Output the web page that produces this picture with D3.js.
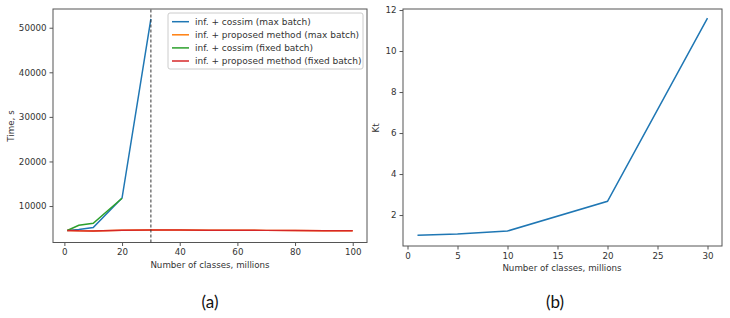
<!DOCTYPE html>
<html>
<head>
<meta charset="utf-8">
<script src="https://d3js.org/d3.v7.min.js"></script>
<style>
  body { margin: 0; background: #fff; }
  svg { display: block; }
  text { font-family: "DejaVu Sans", sans-serif; }
</style>
</head>
<body>
<svg width="730" height="318"></svg>
<script>
// (a) time vs number of classes
const seriesNames = [
  "inf. + cossim (max batch)",
  "inf. + proposed method (max batch)",
  "inf. + cossim (fixed batch)",
  "inf. + proposed method (fixed batch)"
];
const seriesColors = ["#1f77b4", "#ff7f0e", "#2ca02c", "#d62728"];
const cossimMaxX = [1, 5, 10, 20, 30];
const cossimMaxY = [4500, 4750, 5200, 11800, 52000];
const proposedX = [1, 5, 10, 20, 30, 40, 50, 60, 70, 80, 90, 100];
const proposedMaxY = [4500, 4430, 4420, 4560, 4600, 4600, 4590, 4570, 4540, 4510, 4480, 4440];
const cossimFixedX = [1, 5, 10, 20];
const cossimFixedY = [4500, 5700, 6150, 11750];
const proposedFixedY = [4500, 4430, 4420, 4560, 4600, 4600, 4590, 4570, 4540, 4510, 4480, 4440];
const cutoffX = 30;
const ticksA_X = [0, 20, 40, 60, 80, 100];
const ticksA_Y = [10000, 20000, 30000, 40000, 50000];

// (b) Kt vs number of classes
const ktX = [1, 5, 10, 20, 30];
const ktY = [1.02, 1.07, 1.22, 2.67, 11.6];
const ticksB_X = [0, 5, 10, 15, 20, 25, 30];
const ticksB_Y = [2, 4, 6, 8, 10, 12];

const svg = d3.select("svg");
const axisColor = "#555";
const labelColor = "#333";
const fs = "8.7px";

function frame(g, x, y, xTicks, yTicks, yFmt) {
  const [x0, x1] = x.range();
  const [y1, y0] = y.range();
  const xa = g.append("g").attr("transform", `translate(0,${y1})`)
    .call(d3.axisBottom(x).tickValues(xTicks).tickSize(3.5).tickPadding(3).tickFormat(d3.format("d")));
  const ya = g.append("g").attr("transform", `translate(${x0},0)`)
    .call(d3.axisLeft(y).tickValues(yTicks).tickSize(3.5).tickPadding(3).tickFormat(yFmt));
  [xa, ya].forEach(a => {
    a.select(".domain").remove();
    a.selectAll(".tick line").attr("stroke", axisColor);
    a.selectAll(".tick text").attr("fill", labelColor).style("font-size", fs);
  });
  g.append("rect")
    .attr("x", x0).attr("y", y0)
    .attr("width", x1 - x0).attr("height", y1 - y0)
    .attr("fill", "none").attr("stroke", axisColor).attr("stroke-width", 1);
}

// ---- panel (a)
const xA = d3.scaleLinear().domain([-3.95, 104.95]).range([53, 367]);
const yA = d3.scaleLinear().domain([1820, 54200]).range([242.5, 9]);
const gA = svg.append("g");
frame(gA, xA, yA, ticksA_X, ticksA_Y, d3.format("d"));

const lineA = d3.line().x(d => xA(d[0])).y(d => yA(d[1]));
const dataA = [
  d3.zip(cossimMaxX, cossimMaxY),
  d3.zip(proposedX, proposedMaxY),
  d3.zip(cossimFixedX, cossimFixedY),
  d3.zip(proposedX, proposedFixedY)
];
gA.selectAll(".series")
  .data(dataA)
  .enter().append("path")
  .attr("class", "series")
  .attr("d", lineA)
  .attr("fill", "none")
  .attr("stroke", (d, i) => seriesColors[i])
  .attr("stroke-width", 1.5);

gA.append("line")
  .attr("x1", xA(cutoffX)).attr("x2", xA(cutoffX))
  .attr("y1", yA.range()[0]).attr("y2", yA.range()[1])
  .attr("stroke", "#333").attr("stroke-width", 1)
  .attr("stroke-dasharray", "3,2");

// legend
const leg = gA.append("g").attr("transform", "translate(168,13)");
leg.append("rect")
  .attr("width", 195).attr("height", 56).attr("rx", 2)
  .attr("fill", "#fff").attr("stroke", "#ccc");
seriesNames.forEach((name, i) => {
  const yy = 8.7 + i * 13.1;
  leg.append("line")
    .attr("x1", 4).attr("x2", 21).attr("y1", yy).attr("y2", yy)
    .attr("stroke", seriesColors[i]).attr("stroke-width", 1.5);
  leg.append("text")
    .attr("x", 27).attr("y", yy).attr("dy", "0.35em")
    .attr("fill", labelColor).style("font-size", "9px")
    .text(name);
});

gA.append("text")
  .attr("x", 210).attr("y", 265).attr("dy", "0.35em")
  .attr("text-anchor", "middle").attr("fill", labelColor).style("font-size", fs)
  .text("Number of classes, millions");
gA.append("text")
  .attr("transform", "translate(11,126) rotate(-90)")
  .attr("dy", "0.35em")
  .attr("text-anchor", "middle").attr("fill", labelColor).style("font-size", fs)
  .text("Time, s");

// ---- panel (b)
const xB = d3.scaleLinear().domain([-0.45, 31.45]).range([403, 722]);
const yB = d3.scaleLinear().domain([0.49, 12.05]).range([246, 9]);
const gB = svg.append("g");
frame(gB, xB, yB, ticksB_X, ticksB_Y, d3.format("d"));

gB.append("path")
  .datum(d3.zip(ktX, ktY))
  .attr("d", d3.line().x(d => xB(d[0])).y(d => yB(d[1])))
  .attr("fill", "none")
  .attr("stroke", seriesColors[0])
  .attr("stroke-width", 1.5);

gB.append("text")
  .attr("x", 562).attr("y", 268).attr("dy", "0.35em")
  .attr("text-anchor", "middle").attr("fill", labelColor).style("font-size", fs)
  .text("Number of classes, millions");
gB.append("text")
  .attr("transform", "translate(376,128) rotate(-90)")
  .attr("dy", "0.35em")
  .attr("text-anchor", "middle").attr("fill", labelColor).style("font-size", fs)
  .text("Kt");

// sub-captions
[["(a)", 210], ["(b)", 555]].forEach(([t, x]) => {
  svg.append("text")
    .attr("x", x).attr("y", 302).attr("dy", "0.35em")
    .attr("text-anchor", "middle").attr("fill", "#111")
    .style("font-family", "Lato, 'Open Sans', sans-serif").style("font-size", "17px")
    .text(t);
});
</script>
</body>
</html>
